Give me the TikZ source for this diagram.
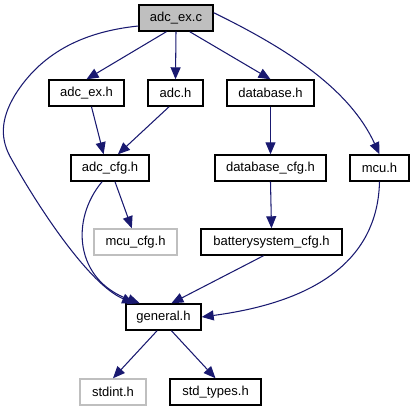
\documentclass[tikz,border=0pt]{standalone}
\usepackage{fontspec}
\newfontfamily\doxfont{Liberation Sans}
\usetikzlibrary{arrows.meta}
\definecolor{cEdge}{HTML}{191970}
\definecolor{cRoot}{HTML}{BFBFBF}
\definecolor{cMiss}{HTML}{BFBFBF}
\tikzset{
  file/.style={draw=black,fill=white,line width=0.8pt,inner sep=0pt,
               minimum height=0.52cm,font=\doxfont\fontsize{7.4}{9}\selectfont},
  root/.style={file,fill=cRoot},
  missing/.style={file,draw=cMiss},
  inc/.style={-{Triangle[length=2.4mm,width=2mm]},line width=0.6pt,draw=cEdge}
}

\begin{document}
\begin{tikzpicture}[x=0.02cm,y=-0.02cm]
  \useasboundingbox (0,0) rectangle (414,411);

  % Top: the source file and its direct includes.
  \node[root,minimum width=1.48cm] (adcexc) at (176,18) {adc\_ex.c};
  \node[file,minimum width=1.50cm] (adcexh) at (86.5,93) {adc\_ex.h};
  \node[file,minimum width=1.10cm] (adch) at (175.5,93) {adc.h};
  \node[file,minimum width=1.74cm] (dbh) at (270.5,93) {database.h};

  % Middle rows.
  \node[file,minimum width=1.56cm] (adccfg) at (110,168) {adc\_cfg.h};
  \node[file,minimum width=2.22cm] (dbcfg) at (270.5,168) {database\_cfg.h};
  \node[file,minimum width=1.18cm] (mcuh) at (379.5,168) {mcu.h};
  \node[missing,minimum width=1.66cm] (mcucfg) at (135.5,242) {mcu\_cfg.h};
  \node[file,minimum width=2.82cm] (bscfg) at (271.5,242) {batterysystem\_cfg.h};

  % Bottom: general header and its includes.
  \node[file,minimum width=1.50cm] (general) at (163.5,317) {general.h};
  \node[missing,minimum width=1.32cm] (stdint) at (113,392) {stdint.h};
  \node[file,minimum width=1.82cm] (stdtypes) at (215.5,392) {std\_types.h};

  \draw[inc] (adcexc.235) -- (adcexh.north);
  \draw[inc] (adcexc.south) -- (adch.north);
  \draw[inc] (adcexc.315) -- (dbh.north);
  \draw[inc] (adcexc.192) .. controls (80,32) and (40,55) .. (15,95)
    .. controls (0,120) and (0,140) .. (12,160)
    .. controls (40,210) and (90,285) .. (general.155);
  \draw[inc] (adcexc.8) .. controls (290,50) and (350,90) .. (mcuh.north);

  \draw[inc] (adcexh.290) -- (adccfg.115);
  \draw[inc] (adch.245) -- (adccfg.60);
  \draw[inc] (dbh.south) -- (dbcfg.north);
  \draw[inc] (adccfg.290) -- (mcucfg.105);
  \draw[inc] (adccfg.240) .. controls (70,220) and (75,280) .. (general.150);
  \draw[inc] (dbcfg.south) -- (bscfg.north);
  \draw[inc] (bscfg.240) -- (general.60);
  \draw[inc] (mcuh.south) .. controls (378,250) and (330,300) .. (general.east);

  \draw[inc] (general.245) -- (stdint.north);
  \draw[inc] (general.300) -- (stdtypes.north);
\end{tikzpicture}
\end{document}
